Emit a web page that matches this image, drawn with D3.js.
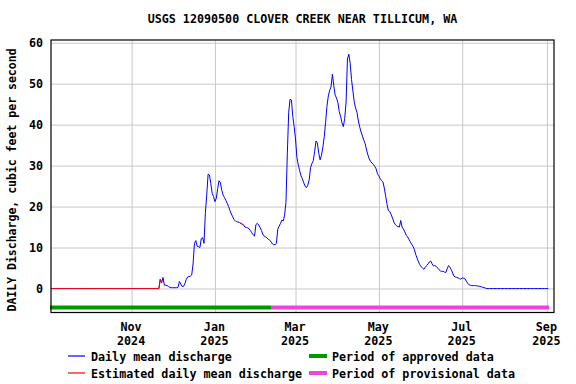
<!DOCTYPE html>
<html><head><meta charset="utf-8">
<script src="https://cdn.jsdelivr.net/npm/d3@7"></script>
<style>
html,body{margin:0;padding:0;background:#fff;}
svg{display:block;}
text{font-family:"DejaVu Sans Mono",monospace;font-weight:bold;fill:#000;}
</style></head>
<body>
<svg id="chart" width="576" height="384"></svg>
<script>
const title = "USGS 12090500 CLOVER CREEK NEAR TILLICUM, WA";
const yLabel = "DAILY Discharge, cubic feet per second";
const startDate = "2024-09-03";
// daily mean discharge, one value per day from startDate (cfs)
const discharge = [
  0,0,0,0,0,0,0,0,0,0, 0,0,0,0,0,0,0,0,0,0, 0,0,0,0,0,0,0,0,0,0,
  0,0,0,0,0,0,0,0,0,0, 0,0,0,0,0,0,0,0,0,0, 0,0,0,0,0,0,0,0,0,0,
  0,0,0,0,0,0,0,0,0,0, 0,0,0,0,0,0,0,0,0,
  0,2.3,1.4,2.7,0.8,0.8,0.7,0.5,0.3,0.2,
  0.2,0.2,0.2,0.2,0.3,1.7,1.1,0.5,0.5,1.2,
  2.2,2.8,2.9,3.0,3.3,6.0,11.0,11.7,10.3,10.2,
  10.0,12.2,12.4,11.0,18.5,22.8,27.9,27.7,25.6,23.2,
  22.4,21.2,22.0,24.4,26.3,25.8,24.0,22.8,22.2,21.5,
  20.8,20.0,19.0,18.2,17.5,16.8,16.5,16.3,16.2,16.1,
  15.9,15.7,15.5,15.0,14.9,14.8,14.6,14.1,13.6,13.1,
  12.8,15.6,15.9,15.5,14.9,14.2,13.3,12.8,12.6,12.4,
  12.0,11.8,11.5,10.9,10.7,10.7,11.0,14.5,15.2,15.9,
  16.7,16.5,17.9,21.0,33.0,43.0,46.2,46.0,42.0,39.5,
  36.5,32.0,30.2,28.8,27.5,26.8,25.8,25.0,24.6,25.2,
  26.5,29.5,30.5,31.2,33.5,36.0,35.5,33.0,31.4,32.5,
  34.5,37.0,40.5,44.5,47.0,48.4,49.2,52.3,49.5,47.2,
  46.5,45.4,43.2,42.0,40.5,39.5,41.5,45.5,56.0,57.2,
  55.0,51.0,48.2,45.5,44.0,43.0,40.9,39.4,38.2,37.2,
  36.2,35.3,33.8,32.6,31.6,31.0,30.6,30.3,29.8,29.2,
  28.0,27.5,26.8,26.3,26.0,24.5,22.5,20.5,19.0,18.8,
  18.0,17.2,16.2,15.6,15.3,15.1,15.0,16.6,15.0,14.5,
  13.8,13.0,12.6,12.0,11.4,10.8,10.3,9.5,8.3,7.4,
  6.5,5.8,5.3,5.0,4.7,5.2,5.6,6.0,6.5,6.7,
  6.0,5.5,5.6,5.4,5.0,4.6,4.3,4.2,4.2,4.0,
  3.9,4.8,5.6,5.2,4.6,3.8,3.0,2.8,2.7,2.6,
  2.4,2.3,2.6,2.5,2.4,1.8,1.3,0.9,0.8,0.7,
  0.7,0.7,0.7,0.6,0.6,0.5,0.4,0.3,0.2,0.1,
  0,0,0,0,0,0,0,0,0,0, 0,0,0,0,0,0,0,0,0,0,
  0,0,0,0,0,0,0,0,0,0, 0,0,0,0,0,0,0,0,0,0,
  0,0,0,0,0,0
];
const estimatedRanges = [["2024-09-03","2024-11-23"],["2025-01-19","2025-01-22"]];
const approvedPeriod = ["2024-09-03","2025-02-11"];
const provisionalPeriod = ["2025-02-11","2025-09-02"];
const yTicks = [0,10,20,30,40,50,60];
const xTicks = ["2024-11-01","2025-01-01","2025-03-01","2025-05-01","2025-07-01","2025-09-01"];
const xTickLabels = [["Nov","2024"],["Jan","2025"],["Mar","2025"],["May","2025"],["Jul","2025"],["Sep","2025"]];
const legendItems = [
  {label:"Daily mean discharge", type:"line", color:"#0000ff"},
  {label:"Estimated daily mean discharge", type:"line", color:"#ff0000"},
  {label:"Period of approved data", type:"bar", color:"#009900"},
  {label:"Period of provisional data", type:"bar", color:"#ee44dd"}
];

const FS = "11.7px";
const parse = d3.utcParse("%Y-%m-%d");
const t0 = parse(startDate);
const data = discharge.map((v,i)=>({date:d3.utcDay.offset(t0,i), value:v}));

const L=51, R=554, T=40, B=312.5;
const svg = d3.select("#chart");
const x = d3.scaleUtc().domain([t0, new Date(Date.UTC(2025,8,6,5))]).range([L,R]);
const y = d3.scaleLinear().domain([-5.86, 60.66]).range([B,T]);

// gridlines
svg.append("g").attr("transform",`translate(0,${B})`)
  .call(d3.axisBottom(x).tickValues(xTicks.map(parse)).tickSize(-(B-T)).tickFormat(""))
  .call(g=>{g.select(".domain").remove(); g.selectAll("line").attr("stroke","#c8c8c8");});
svg.append("g").attr("transform",`translate(${L},0)`)
  .call(d3.axisLeft(y).tickValues(yTicks).tickSize(-(R-L)).tickFormat(""))
  .call(g=>{g.select(".domain").remove(); g.selectAll("line").attr("stroke","#c8c8c8");});

// y tick labels
svg.append("g").attr("transform",`translate(${L-8},0)`)
  .call(d3.axisLeft(y).tickValues(yTicks).tickSize(0).tickPadding(0))
  .call(g=>{g.select(".domain").remove();
    g.selectAll("text").attr("font-size",FS).attr("font-family","DejaVu Sans Mono").attr("font-weight","bold").attr("fill","#000").attr("dy","0.36em");});

// x tick labels
svg.append("g").attr("transform",`translate(0,${B})`)
  .call(d3.axisBottom(x).tickValues(xTicks.map(parse)).tickSize(0).tickFormat(""))
  .call(g=>{g.select(".domain").remove();
    g.selectAll(".tick").each(function(d,i){
      const t=d3.select(this);
      t.append("text").attr("x",-1).attr("y",18).attr("text-anchor","middle").attr("font-size",FS).text(xTickLabels[i][0]);
      t.append("text").attr("x",-1).attr("y",32).attr("text-anchor","middle").attr("font-size",FS).text(xTickLabels[i][1]);
    });});

// period bars
const barY = y(-4.64);
[[approvedPeriod,"#009900"],[provisionalPeriod,"#ee44dd"]].forEach(([p,c],i)=>{
  const x0 = x(parse(p[0])) - (i===0?1:0);
  const x1 = x(parse(p[1])) + (i===1?1:0);
  svg.append("rect").attr("x",x0).attr("y",barY-2).attr("width",x1-x0).attr("height",4).attr("fill",c);
});

// lines
const line = d3.line().x(d=>x(d.date)).y(d=>y(d.value));
svg.append("path").datum(data).attr("d",line).attr("fill","none").attr("stroke","#0000ff").attr("stroke-width",1);
estimatedRanges.forEach(r=>{
  const a=parse(r[0]), b=parse(r[1]);
  const seg = data.filter(d=>d.date>=a && d.date<=b);
  svg.append("path").datum(seg).attr("d",line).attr("fill","none").attr("stroke","#ff0000").attr("stroke-width",1);
});

// frame
svg.append("rect").attr("x",L).attr("y",T).attr("width",R-L).attr("height",B-T)
  .attr("fill","none").attr("stroke","#000").attr("stroke-width",1.2);

// title
svg.append("text").attr("x",(L+R)/2).attr("y",23).attr("text-anchor","middle").attr("font-size",FS).text(title);
// y label
svg.append("text").attr("transform","translate(16,180) rotate(-90)").attr("text-anchor","middle").attr("font-size","11.5px").text(yLabel);

// legend
const lg = svg.append("g");
const pos = [[68,356],[68,373],[309,356],[309,373]];
legendItems.forEach((it,i)=>{
  const [lx,ly]=pos[i];
  if(it.type==="line"){
    lg.append("line").attr("x1",lx).attr("x2",lx+17).attr("y1",ly).attr("y2",ly).attr("stroke",it.color).attr("stroke-width",1.2);
  } else {
    lg.append("rect").attr("x",lx).attr("y",ly-2).attr("width",18).attr("height",4).attr("fill",it.color);
  }
  lg.append("text").attr("x",lx+23).attr("y",ly+4.5).attr("font-size",FS).text(it.label);
});
</script>
</body></html>
